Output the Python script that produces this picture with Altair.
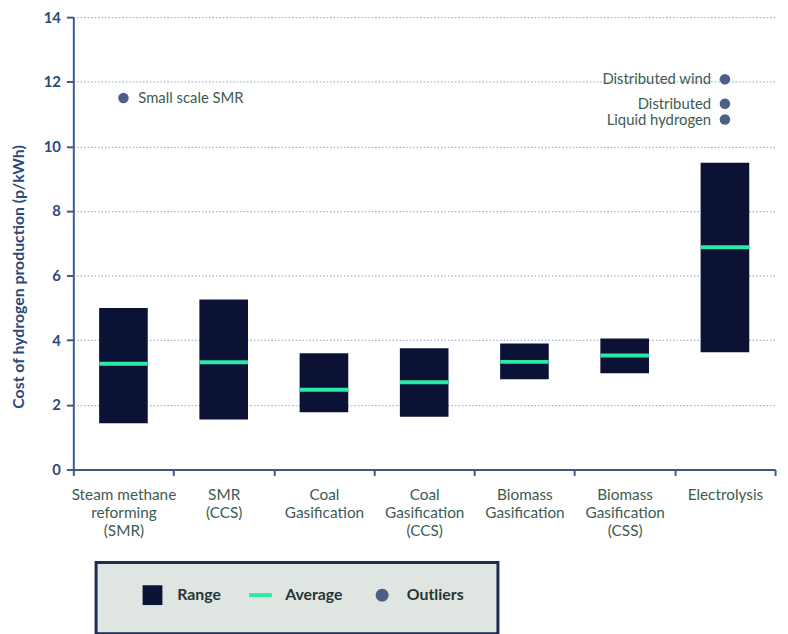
import altair as alt
import pandas as pd

categories = [
    "Steam methane\nreforming\n(SMR)",
    "SMR\n(CCS)",
    "Coal\nGasification",
    "Coal\nGasification\n(CCS)",
    "Biomass\nGasification",
    "Biomass\nGasification\n(CSS)",
    "Electrolysis",
]
range_low = [1.43, 1.55, 1.77, 1.63, 2.79, 2.98, 3.63]
range_high = [5.00, 5.26, 3.60, 3.75, 3.90, 4.05, 9.49]
averages = [3.27, 3.32, 2.47, 2.70, 3.33, 3.53, 6.88]

outlier_names = ["Small scale SMR", "Distributed wind", "Distributed", "Liquid hydrogen"]
outlier_categories = [categories[0], categories[6], categories[6], categories[6]]
outlier_values = [11.5, 12.08, 11.32, 10.83]

legend_kinds = ["Range", "Average", "Outliers"]
y_ticks = [0, 2, 4, 6, 8, 10, 12, 14]

NAVY = "#0b1236"
MINT = "#2ee8a6"
OUTC = "#4d5f87"
AXIS = "#3b5a8a"
LABEL_GREEN = "#3c5c53"
YLAB = "#2c4a7a"

ranges = pd.DataFrame({"category": categories, "low": range_low, "high": range_high, "avg": averages})
outliers = pd.DataFrame({"category": outlier_categories, "value": outlier_values, "name": outlier_names})
legend_df = pd.DataFrame({"kind": legend_kinds})

x_enc = alt.X(
    "category:N",
    sort=categories,
    scale=alt.Scale(domain=categories, paddingInner=0, paddingOuter=0),
    axis=alt.Axis(
        title=None,
        labelAngle=0,
        labelExpr="split(datum.label, '\\n')",
        labelFontSize=15.5,
        labelColor=LABEL_GREEN,
        labelLineHeight=18.5,
        labelPadding=12,
        labelLimit=300,
        tickBand="extent",
        tickSize=6,
        tickWidth=2,
        tickColor=AXIS,
        domainColor=AXIS,
        domainWidth=2,
        grid=False,
    ),
)
y_scale = alt.Scale(domain=[0, 14], nice=False, zero=True)
y_axis = alt.Axis(
    title="Cost of hydrogen production (p/kWh)",
    titleFontSize=16,
    titleFontWeight="bold",
    titleColor=YLAB,
    titlePadding=17,
    titleY=262,
    values=y_ticks,
    labelFontSize=15,
    labelFontWeight="bold",
    labelColor=YLAB,
    labelPadding=6,
    tickSize=7,
    tickWidth=2,
    tickColor=AXIS,
    domainColor=AXIS,
    domainWidth=2,
    grid=True,
    gridColor="#9fb2cc",
    gridWidth=1.3,
    gridDash=[1.5, 2],
)

bars = alt.Chart(ranges).mark_bar(width=alt.RelativeBandSize(0.485), color=NAVY).encode(
    x=x_enc,
    y=alt.Y("low:Q", scale=y_scale, axis=y_axis),
    y2="high:Q",
)
avg = alt.Chart(ranges).mark_tick(color=MINT, thickness=4, size=49, opacity=1).encode(
    x=alt.X("category:N", sort=categories),
    y=alt.Y("avg:Q"),
)
points = alt.Chart(outliers).mark_circle(size=113, color=OUTC, opacity=1).encode(
    x=alt.X("category:N", sort=categories),
    y=alt.Y("value:Q"),
)
text_right = alt.Chart(outliers).transform_filter(
    alt.datum.category != categories[6]
).mark_text(align="left", dx=15, fontSize=15, color=LABEL_GREEN, baseline="middle").encode(
    x=alt.X("category:N", sort=categories),
    y=alt.Y("value:Q"),
    text="name:N",
)
text_left = alt.Chart(outliers).transform_filter(
    alt.datum.category == categories[6]
).mark_text(align="right", dx=-14, fontSize=15, color=LABEL_GREEN, baseline="middle").encode(
    x=alt.X("category:N", sort=categories),
    y=alt.Y("value:Q"),
    text="name:N",
)

circle_path = "M-1,-1M1,1M0.65,0A0.65,0.65,0,1,1,-0.65,0A0.65,0.65,0,1,1,0.65,0Z"
line_path = "M-1,-1M1,1M-1.15,0H1.15"
legend_layer = alt.Chart(legend_df).mark_point(filled=True, opacity=0).encode(
    fill=alt.Fill("kind:N", scale=alt.Scale(domain=legend_kinds, range=[NAVY, "transparent", OUTC]), legend=alt.Legend(title=" ")),
    stroke=alt.Stroke("kind:N", scale=alt.Scale(domain=legend_kinds, range=["transparent", MINT, "transparent"]), legend=alt.Legend(title=" ")),
    shape=alt.Shape("kind:N", scale=alt.Scale(domain=legend_kinds, range=["square", line_path, circle_path]), legend=alt.Legend(title=" ")),
)

chart = alt.layer(bars, avg, points, text_right, text_left, legend_layer).properties(
    width=709,
    height=457,
    autosize=alt.AutoSizeParams(type="none"),
    padding={"left": 66, "top": 6, "right": 5, "bottom": 163},
).configure(font="Lato").configure_view(stroke=None).configure_legend(
    orient="none",
    legendX=23,
    legendY=551,
    direction="horizontal",
    fillColor="#dfe5e0",
    strokeColor="#1d2a52",
    strokeWidth=3,
    padding=21,
    symbolSize=400,
    symbolStrokeWidth=4,
    symbolOffset=24,
    labelOffset=13,
    columnPadding=3,
    labelFont="Lato",
    labelFontSize=16,
    labelFontWeight="bold",
    labelColor="#263535",
    symbolOpacity=1,
    titleOrient="right",
    titlePadding=14,
    titleFontSize=11,
)

chart.save("out.html", embed_options={"renderer": "svg", "actions": False})
